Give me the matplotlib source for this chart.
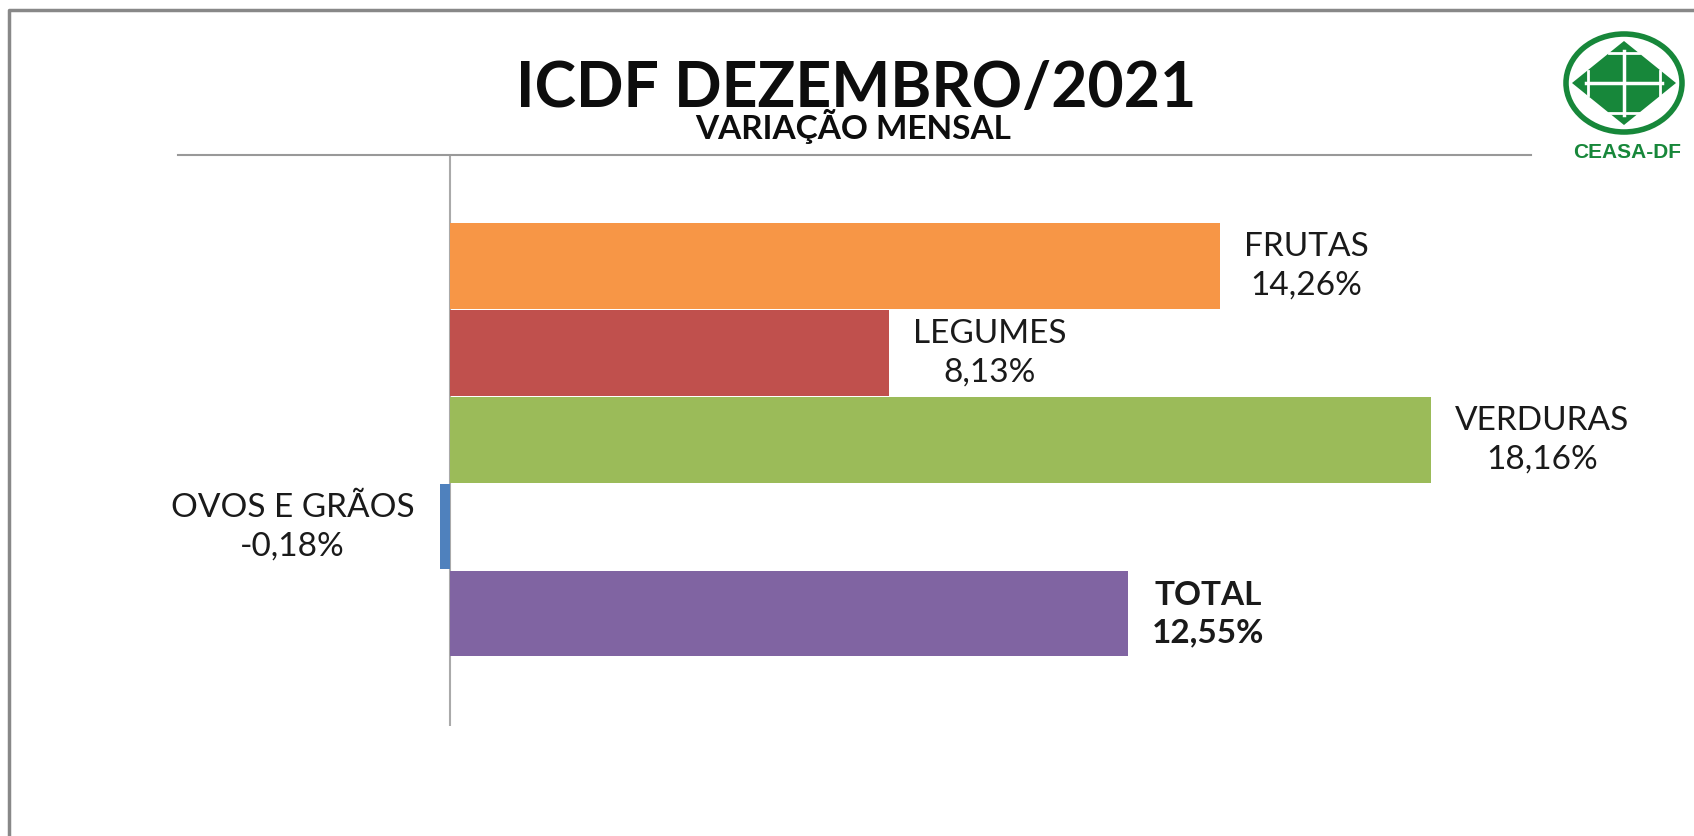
"""
ICDF Dezembro/2021 - variação mensal por grupo (barras horizontais).
"""
import matplotlib
matplotlib.use("Agg")
import matplotlib.pyplot as plt
from matplotlib.patches import Ellipse, Polygon

categories = ["FRUTAS", "LEGUMES", "VERDURAS", "OVOS E GRÃOS", "TOTAL"]
values = [14.26, 8.13, 18.16, -0.18, 12.55]
value_labels = ["14,26%", "8,13%", "18,16%", "-0,18%", "12,55%"]
colors = ["#F79646", "#C0504D", "#9BBB59", "#4F81BD", "#8064A2"]
bold = [False, False, False, False, True]

plt.rcParams["font.family"] = ["Lato", "DejaVu Sans"]

W, H = 1694, 836
fig = plt.figure(figsize=(W / 100, H / 100), dpi=100)

# overlay in pixel coords for frame + logo
over = fig.add_axes([0, 0, 1, 1], zorder=0)
over.set_xlim(0, W)
over.set_ylim(H, 0)
over.axis("off")
over.plot([9, 9, W], [H, 10, 10], color="#888888", lw=2.5, solid_capstyle="butt")

# main chart
ax = fig.add_axes([178 / W, 1 - 726 / H, (1531 - 178) / W, (726 - 155) / H], zorder=1)
ax.patch.set_alpha(0)
pos = list(range(len(categories)))
ax.barh(pos, values, height=0.98, color=colors)
ax.set_xlim(-5.04, 20.02)
ax.set_ylim(5.29, -1.276)
for s in ["left", "right", "bottom"]:
    ax.spines[s].set_visible(False)
ax.spines["top"].set_color("#999999")
ax.spines["top"].set_linewidth(1.5)
ax.axvline(0, color="#aaaaaa", lw=1.5, zorder=0)
ax.set_xticks([])
ax.set_yticks([])

for p, v, cat, lab, b in zip(pos, values, categories, value_labels, bold):
    off = 24 if v >= 0 else -26
    ax.annotate(f"{cat}\n{lab}", xy=(v, p), xytext=(off * 0.72, 0),
                textcoords="offset points", ha="left" if v >= 0 else "right",
                va="center", multialignment="center", fontsize=24,
                linespacing=1.35, color="#1a1a1a",
                fontweight="bold" if b else "normal")

fig.text(856 / W, 1 - 107 / H, "ICDF DEZEMBRO/2021", ha="center", va="baseline",
         fontsize=45, fontweight="bold", color="#0d0d0d")
fig.text(853 / W, 1 - 139 / H, "VARIAÇÃO MENSAL", ha="center", va="baseline",
         fontsize=24, fontweight="bold", color="#0d0d0d")

# CEASA-DF logo
green = "#17873A"
cx, cy = 1624, 83
over.add_patch(Ellipse((cx, cy), 116, 98, fill=False, ec=green, lw=4))
over.add_patch(Polygon([(cx - 52, cy), (cx, cy - 42), (cx + 52, cy), (cx, cy + 42)],
                       closed=True, fc=green, ec="none"))
over.plot([cx - 38, cx + 38], [cy, cy], color="white", lw=2.5)
over.plot([cx, cx], [cy - 32, cy + 32], color="white", lw=2.5)
over.plot([cx - 36, cx - 36], [cy - 12, cy + 12], color="white", lw=2)
over.plot([cx + 36, cx + 36], [cy - 12, cy + 12], color="white", lw=2)
over.plot([cx - 15, cx + 15], [cy - 30, cy - 30], color="white", lw=2)
over.plot([cx - 15, cx + 15], [cy + 30, cy + 30], color="white", lw=2)
over.text(1627, 152, "CEASA-DF", ha="center", va="center", fontsize=15,
          fontweight="bold", color=green, family=["Liberation Sans"])

fig.savefig("out.png", dpi=100)
